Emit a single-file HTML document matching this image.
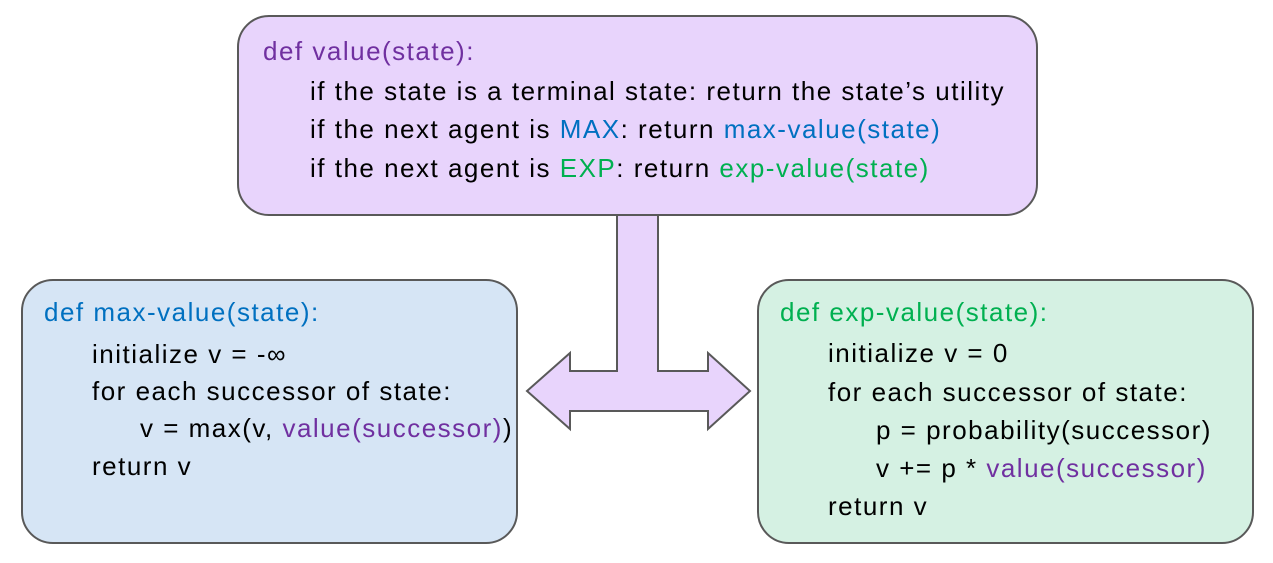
<!DOCTYPE html>
<html><head><meta charset="utf-8">
<style>
body{margin:0;width:1273px;height:563px;background:#fff;position:relative;overflow:hidden;font-family:"Liberation Sans",sans-serif;font-size:26px;letter-spacing:1.5px;color:#000}
.box{position:absolute;border:2.5px solid #595959;border-radius:32px;box-sizing:border-box}
.t{position:absolute;white-space:nowrap;line-height:1;transform:translateY(-50%)}
.p{color:#7030a0}.b{color:#0070c0}.g{color:#00b050}
</style></head><body>
<div class="box" style="left:237px;top:15px;width:801px;height:201px;background:#e8d4fc"></div>
<div class="box" style="left:21px;top:279px;width:497px;height:265px;background:#d6e5f5"></div>
<div class="box" style="left:757px;top:279px;width:497px;height:265px;background:#d5f1e3"></div>
<svg style="position:absolute;left:0;top:0" width="1273" height="563">
<polygon points="617,215 658,215 658,371 708,371 708,353 750,391 708,429 708,411 570,411 570,429 527,391 570,353 570,371 617,371" fill="#e8d4fc" stroke="#595959" stroke-width="2"/>
</svg>
<div class="t p" style="left:263px;top:51px">def value(state):</div>
<div class="t" style="left:310px;top:91px">if the state is a terminal state: return the state’s utility</div>
<div class="t" style="left:310px;top:129px">if the next agent is <span class="b">MAX</span>: return <span class="b">max-value(state)</span></div>
<div class="t" style="left:310px;top:168px">if the next agent is <span class="g">EXP</span>: return <span class="g">exp-value(state)</span></div>

<div class="t b" style="left:44px;top:312px">def max-value(state):</div>
<div class="t" style="left:92px;top:354px">initialize v = -∞</div>
<div class="t" style="left:92px;top:391px">for each successor of state:</div>
<div class="t" style="left:140px;top:428px">v = max(v, <span class="p">value(successor)</span>)</div>
<div class="t" style="left:92px;top:466px">return v</div>

<div class="t g" style="left:780px;top:312px">def exp-value(state):</div>
<div class="t" style="left:828px;top:353px">initialize v = 0</div>
<div class="t" style="left:828px;top:392px">for each successor of state:</div>
<div class="t" style="left:876px;top:430px">p = probability(successor)</div>
<div class="t" style="left:876px;top:468px">v += p * <span class="p">value(successor)</span></div>
<div class="t" style="left:828px;top:506px">return v</div>
</body></html>
